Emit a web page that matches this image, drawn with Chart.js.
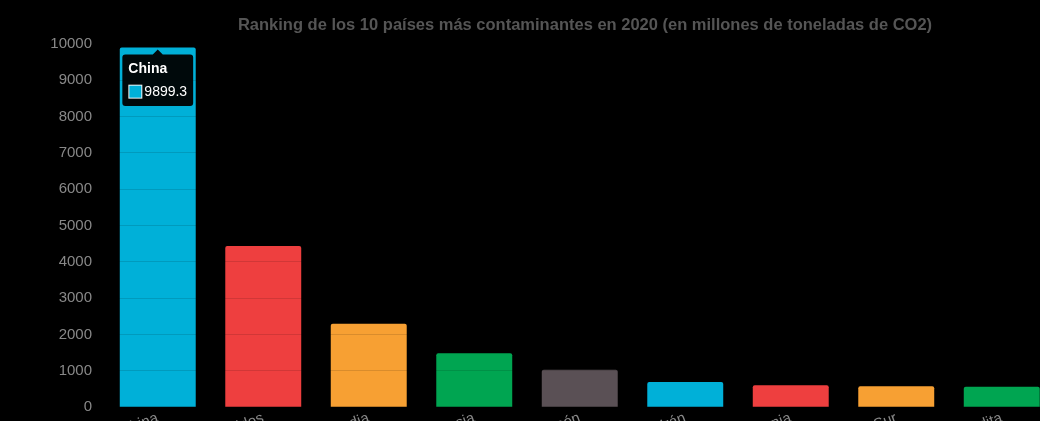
<!DOCTYPE html>
<html>
<head>
<meta charset="utf-8">
<script src="https://cdn.jsdelivr.net/npm/chart.js@4.4.0/dist/chart.umd.min.js"></script>
<style>
  html, body { margin: 0; padding: 0; background: #000; overflow: hidden; }
  #wrap { position: relative; width: 1170px; height: 464px; }
</style>
</head>
<body>
<div id="wrap"><canvas id="myChart"></canvas></div>
<script>
const paises = ["China", "Estados Unidos", "India", "Rusia", "Japón", "Irán", "Alemania", "Corea del Sur", "Arabia Saudita", "Indonesia"];
const emisiones = [9899.3, 4432.2, 2298.2, 1480.1, 1030.8, 690.2, 604.2, 577.8, 563.4, 545.0];
const colores = ["#00b0d8", "#ee3f3f", "#f7a033", "#00a551", "#5a5055"];

const canvas = document.getElementById("myChart");
const ctx = canvas.getContext("2d");

Chart.defaults.font.family = "'Liberation Sans', Arial, sans-serif";

const chart = new Chart(ctx, {
  type: "bar",
  data: {
    labels: paises,
    datasets: [
      {
        label: "",
        data: emisiones,
        backgroundColor: paises.map((p, i) => colores[i % colores.length]),
        borderRadius: 2,
      },
    ],
  },
  options: {
    responsive: true,
    maintainAspectRatio: false,
    animation: false,
    layout: { padding: { left: 10, right: 10, top: 6, bottom: 0 } },
    plugins: {
      legend: { display: false },
      title: {
        display: true,
        text: "Ranking de los 10 países más contaminantes en 2020 (en millones de toneladas de CO2)",
        color: "#555555",
        font: { size: 16.5, weight: "bold" },
        padding: { top: 10, bottom: 8 },
      },
      tooltip: {
        yAlign: "top",
        backgroundColor: "rgba(0,0,0,0.95)",
        titleFont: { size: 14, weight: "bold" },
        bodyFont: { size: 14 },
        padding: 6,
        cornerRadius: 3,
        callbacks: {
          label: (item) => item.parsed.y.toString(),
        },
      },
    },
    scales: {
      x: {
        grid: { display: false, drawTicks: false },
        border: { display: false },
        ticks: { color: "#888888", font: { size: 15 }, padding: 2, minRotation: 20, maxRotation: 20 },
      },
      y: {
        min: 0,
        max: 10000,
        border: { display: false },
        grid: { color: "rgba(0,0,0,0.12)", z: 1, drawTicks: false },
        afterFit: (axis) => { axis.width = 95; },
        ticks: {
          stepSize: 1000,
          color: "#888888",
          font: { size: 15 },
          padding: 13,
          callback: (v) => v,
        },
      },
    },
  },
});

const bar = chart.getDatasetMeta(0).data[0];
chart.tooltip.setActiveElements([{ datasetIndex: 0, index: 0 }], { x: bar.x, y: bar.y });
chart.update();
</script>
</body>
</html>
